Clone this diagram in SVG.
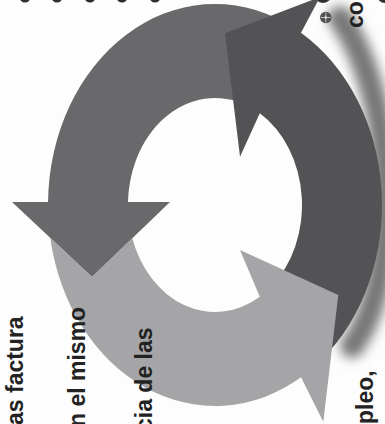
<svg xmlns="http://www.w3.org/2000/svg" width="385" height="424" viewBox="0 0 385 424">
  <style>
    .lbl { font-family: "Liberation Sans", Arial, sans-serif; font-size: 23px; font-weight: bold; fill: #222; }
    .dot { fill: #2e2e2e; }
    .dark { fill: #535356; }
    .mid { fill: #69696c; }
    .light { fill: #a5a5a7; }
  </style>
  <defs>
    <filter id="soft" x="-50%" y="-50%" width="200%" height="200%">
      <feGaussianBlur stdDeviation="6"/>
    </filter>
  </defs>
  <rect width="385" height="424" fill="#fdfdfd"/>

  <g id="shadow">
    <path d="M340,18 C366,55 386,120 386,200 C386,270 372,318 352,346" fill="none" stroke="#777" stroke-width="24" stroke-linecap="round" filter="url(#soft)"/>
  </g>

  <g id="top-marks">
    <circle class="dot" cx="25" cy="-3" r="5.5"/>
    <circle class="dot" cx="57" cy="-3" r="5.5"/>
    <circle class="dot" cx="90" cy="-3" r="5.5"/>
    <circle class="dot" cx="122" cy="-3" r="5.5"/>
    <circle class="dot" cx="155" cy="-3" r="5.5"/>
    <circle class="dot" cx="323" cy="-6" r="9"/>
    <circle class="dot" cx="385" cy="-5" r="8"/>
  </g>

  <g id="connectors">
    <g id="arrow-medium">
      <path class="mid" d="M285.6,22.8 A167 201 0 0 0 48.02,202 L12,202 L92,277 L170,202 L128.03,202 A87 107 0 0 1 251.8,108 Z"/>
    </g>
    <g id="arrow-dark">
      <path class="dark" d="M322.3,359 A167 201 0 0 0 301,32.7 L320,-3 L225,33.3 L240,156.7 L259.8,113.3 A87 107 0 0 1 270.9,287 Z"/>
    </g>
    <g id="arrow-light">
      <path class="light" d="M50.3,237.9 A167 201 0 0 0 301,377.3 L323.3,421.7 L338.3,295 L240,250 L259.8,296.7 A87 107 0 0 1 132.3,238.2 L92,277 Z"/>
    </g>
  </g>

  <g id="bullet">
    <circle cx="325.8" cy="17.5" r="5.8" fill="#505050"/>
    <path d="M325.8,12.5 V22.5 M320.8,17.5 H330.8" stroke="#c8c8c8" stroke-width="0.9"/>
    <circle cx="325.8" cy="17.5" r="1.3" fill="#e0e0e0"/>
  </g>

  <g id="labels">
    <text class="lbl" transform="translate(23,425) rotate(-90)">as factura</text>
    <text class="lbl" transform="translate(85,427) rotate(-90)">n el mismo</text>
    <text class="lbl" transform="translate(152,431) rotate(-90)">cia de las</text>
    <text class="lbl" transform="translate(373,438) rotate(-90)">npleo,</text>
    <text class="lbl" transform="translate(363,28) rotate(-90)">co</text>
  </g>
</svg>
